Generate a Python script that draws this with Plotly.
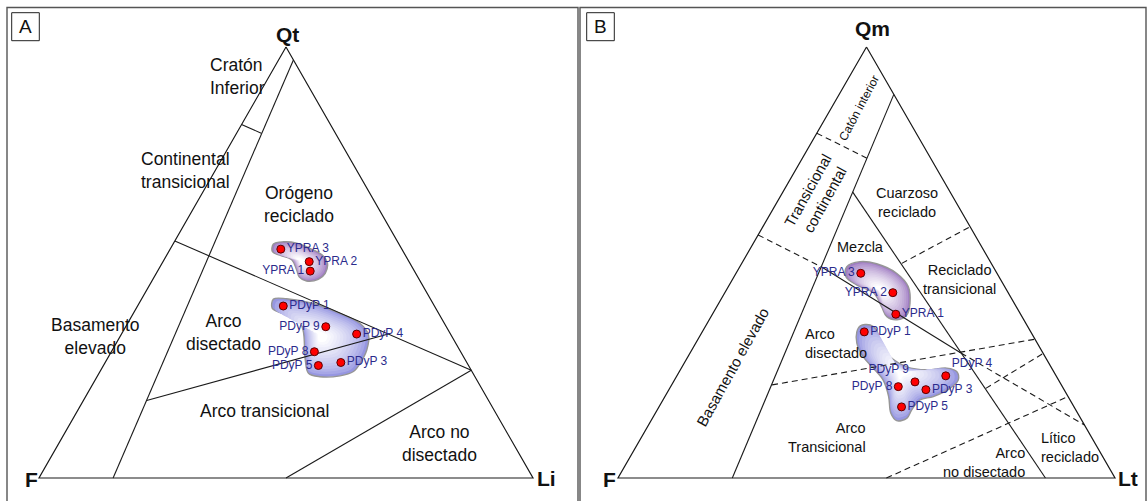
import plotly.graph_objects as go

W, H = 1147, 501
FONT = "Liberation Sans, Arial, sans-serif"

# ---------------------------------------------------------------- data
SAMPLES = ["YPRA 3", "YPRA 2", "YPRA 1", "PDyP 1", "PDyP 9",
           "PDyP 4", "PDyP 8", "PDyP 5", "PDyP 3"]

# Qt-F-L composition (%)
QT_A = [53.1, 50.2, 48.0, 39.9, 35.1, 33.4, 29.3, 26.1, 26.8]
F_A = [24.5, 20.2, 21.1, 30.6, 24.4, 19.0, 29.6, 30.4, 25.5]
LI_A = [22.4, 29.6, 30.9, 29.5, 40.5, 47.6, 41.1, 43.5, 47.7]

# Qm-F-Lt composition (%)
QM_B = [47.5, 43.0, 38.0, 33.9, 22.3, 23.7, 21.2, 16.5, 20.5]
F_B = [27.4, 23.2, 25.1, 33.5, 29.1, 22.2, 33.0, 34.7, 27.8]
LT_B = [25.1, 33.8, 36.9, 32.6, 48.6, 54.1, 45.8, 48.8, 51.7]

# provenance field boundaries, (Q, F, L) end points
BOUNDS_A = [
    [(97, 0, 3), (0, 85, 15)],
    [(82, 18, 0), (80, 15, 5)],
    [(55, 45, 0), (25, 0, 75)],
    [(18, 69.2, 12.8), (33.4, 12.6, 54)],
    [(0, 50, 50), (25, 0, 75)],
]
BOUNDS_B_SOLID = [
    [(89, 0, 11), (0, 77, 23)],
    [(66.4, 19.6, 14), (0, 14, 86)],
    [(49, 34.6, 16.4), (29, 16.5, 54.5)],
]
BOUNDS_B_DASHED = [
    [(80, 20, 0), (74.2, 12.8, 13)],
    [(56.4, 43.6, 0), (49, 34.6, 16.4)],
    [(49.8, 18, 32.2), (58.3, 0, 41.7)],
    [(29, 16.5, 54.5), (12.3, 0, 87.7)],
    [(21.6, 58.2, 20.2), (32.2, 0, 67.8)],
    [(20.8, 15.6, 63.6), (28.9, 0, 71.1)],
    [(0, 46, 54), (18.9, 0, 81.1)],
]

# sample-group envelopes, outline as (Q %, L %)
YPRA_A_Q = [54.3, 54.8, 54.5, 52.9, 51.5, 49.8, 47.5, 46.1, 45.7, 46.6, 48.3, 50.6, 51.7, 52.5]
YPRA_A_L = [20.3, 22.1, 24.9, 29.1, 31.8, 33.5, 34.2, 33.5, 31.3, 29.4, 28.0, 25.9, 22.9, 21.0]
PDYP_A_Q = [41.5, 41.6, 40.5, 38.2, 35.9, 33.2, 29.7, 26.6, 24.7, 23.7, 23.5, 24.3, 27.4,
            34.3, 37.4, 38.4, 39.4]
PDYP_A_L = [26.7, 29.3, 35.3, 41.8, 47.0, 50.1, 51.5, 51.7, 51.3, 49.1, 45.1, 42.4, 40.2,
            36.3, 33.5, 29.6, 27.5]
YPRA_B_Q = [49.0, 50.2, 49.7, 47.5, 44.4, 40.5, 37.8, 36.7, 37.4, 39.7, 42.9, 44.8, 46.7]
YPRA_B_L = [21.5, 23.6, 27.2, 32.3, 36.2, 38.5, 39.2, 37.8, 35.4, 33.2, 30.0, 25.6, 22.5]
PDYP_B_Q = [33.9, 35.3, 35.5, 34.3, 31.3, 28.1, 25.8, 25.1, 25.5, 24.7, 22.7, 20.8, 18.9,
            18.1, 15.8, 13.9, 13.3, 15.0, 18.9, 22.7, 25.5, 28.1, 31.3]
PDYP_B_L = [31.1, 31.1, 33.0, 34.9, 37.1, 40.7, 45.2, 49.6, 53.4, 55.8, 57.1, 56.4, 54.0,
            51.7, 51.2, 51.2, 49.4, 47.4, 45.0, 42.0, 38.6, 35.3, 32.4]

# ---------------------------------------------------------------- layout helpers
PANEL_A = dict(left=39, right=533, base=478, apex=47)
PANEL_B = dict(left=618, right=1115, base=478, apex=47)
XR = (-6, 106)
YR = (-4, 104)


def domains(p):
    w = p["right"] - p["left"]
    h = p["base"] - p["apex"]
    x0 = p["left"] + XR[0] / 100 * w
    x1 = p["left"] + XR[1] / 100 * w
    ybot = p["base"] - YR[0] / 100 * h
    ytop = p["base"] - YR[1] / 100 * h
    return [x0 / W, x1 / W], [1 - ybot / H, 1 - ytop / H]


def to_xy(q, l):
    """ternary (Q, L) -> plane: x along the base, y = height (Q)."""
    return [li + qi / 2 for qi, li in zip(q, l)], list(q)


def mix(c, t):
    return "rgb(%d,%d,%d)" % tuple(round(ci + (255 - ci) * t) for ci in c)


fig = go.Figure()


def add_envelope(q, l, edge, xa, ya):
    x, y = to_xy(q, l)
    cx = sum(x) / len(x)
    cy = sum(y) / len(y)
    n = 14
    for i in range(n):
        s = 1 - 0.92 * i / n
        t = (i / (n - 1)) ** 0.7
        xs = [cx + (v - cx) * s for v in x] + [cx + (x[0] - cx) * s]
        ys = [cy + (v - cy) * s for v in y] + [cy + (y[0] - cy) * s]
        fig.add_trace(go.Scatter(
            x=xs, y=ys, mode="lines", fill="toself", fillcolor=mix(edge, t),
            line=dict(shape="spline", smoothing=1.0,
                      color="rgb(150,150,150)" if i == 0 else mix(edge, t),
                      width=1.4 if i == 0 else 0),
            xaxis=xa, yaxis=ya, hoverinfo="skip", showlegend=False))


def add_segments(segs, xa, ya, dash="solid"):
    for a, b in segs:
        x, y = to_xy([a[0], b[0]], [a[2], b[2]])
        fig.add_trace(go.Scatter(
            x=x, y=y, mode="lines", line=dict(color="#1a1a1a", width=1.1, dash=dash),
            xaxis=xa, yaxis=ya, hoverinfo="skip", showlegend=False))


def add_triangle(xa, ya):
    x, y = to_xy([100, 0, 0, 100], [0, 0, 100, 0])
    fig.add_trace(go.Scatter(
        x=x, y=y, mode="lines", line=dict(color="#1a1a1a", width=1.2),
        xaxis=xa, yaxis=ya, hoverinfo="skip", showlegend=False))


def add_samples(q, l, positions, xa, ya):
    x, y = to_xy(q, l)
    fig.add_trace(go.Scatter(
        x=x, y=y, mode="markers+text", text=SAMPLES, textposition=positions,
        textfont=dict(family=FONT, size=12, color="#2b2b8c"),
        marker=dict(size=8, color="#ff0000", line=dict(color="#5a0000", width=1)),
        cliponaxis=False, xaxis=xa, yaxis=ya, hoverinfo="skip", showlegend=False))


# ---------------------------------------------------------------- panel A (Qt-F-L)
add_envelope(YPRA_A_Q, YPRA_A_L, (160, 125, 195), "x", "y")
add_envelope(PDYP_A_Q, PDYP_A_L, (150, 150, 225), "x", "y")
add_triangle("x", "y")
add_segments(BOUNDS_A, "x", "y")
add_samples(QT_A, LI_A,
            ["middle right", "middle right", "middle left", "middle right", "middle left",
             "middle right", "middle left", "middle left", "middle right"], "x", "y")

# ---------------------------------------------------------------- panel B (Qm-F-Lt)
add_envelope(YPRA_B_Q, YPRA_B_L, (160, 125, 195), "x2", "y2")
add_envelope(PDYP_B_Q, PDYP_B_L, (150, 150, 225), "x2", "y2")
add_triangle("x2", "y2")
add_segments(BOUNDS_B_SOLID, "x2", "y2")
add_segments(BOUNDS_B_DASHED, "x2", "y2", dash="6px,4px")
add_samples(QM_B, LT_B,
            ["middle left", "middle left", "middle right", "middle right", "top left",
             "top right", "middle left", "middle right", "middle right"], "x2", "y2")

# ---------------------------------------------------------------- axes
dxa, dya = domains(PANEL_A)
dxb, dyb = domains(PANEL_B)
hidden = dict(visible=False, showgrid=False, zeroline=False, fixedrange=True)
fig.update_layout(
    xaxis=dict(domain=dxa, range=list(XR), **hidden),
    yaxis=dict(domain=dya, range=list(YR), **hidden),
    xaxis2=dict(domain=dxb, range=list(XR), anchor="y2", **hidden),
    yaxis2=dict(domain=dyb, range=list(YR), anchor="x2", **hidden),
)

# ---------------------------------------------------------------- text
ann = []


def label(px, py, text, size=17.5, xanchor="center", align="center", angle=0, color="#111"):
    ann.append(dict(x=px / W, y=1 - py / H, xref="paper", yref="paper", text=text,
                    showarrow=False, xanchor=xanchor, yanchor="middle", align=align,
                    textangle=angle, font=dict(family=FONT, size=size, color=color)))


# vertices
label(287, 34, "<b>Qt</b>", 21)
label(31, 479, "<b>F</b>", 21)
label(546, 478, "<b>Li</b>", 21)
label(872, 29, "<b>Qm</b>", 21)
label(609, 479, "<b>F</b>", 21)
label(1128, 478, "<b>Lt</b>", 21)

# panel A fields
label(208, 76, "Cratón<br>Inferior", xanchor="left", align="left")
label(185, 170, "Continental<br>transicional")
label(299, 205, "Orógeno<br>reciclado")
label(95, 336, "Basamento<br>elevado")
label(223, 332, "Arco<br>disectado")
label(264, 411, "Arco transicional")
label(439, 443, "Arco no<br>disectado")

# panel B fields
label(859, 108, "Catón interior", 12, angle=-62)
label(816, 195, "Transicional<br>continental", 15, angle=-61)
label(907, 202, "Cuarzoso<br>reciclado", 14.5)
label(860, 247, "Mezcla", 14.5)
label(959, 279, "Reciclado<br>transicional", 14.5)
label(803, 343, "Arco<br>disectado", 14.5, xanchor="left", align="left")
label(868, 437, "Arco<br>Transicional", 14.5, xanchor="right", align="right")
label(1027, 462, "Arco<br>no disectado", 14.5, xanchor="right", align="right")
label(1039, 447, "Lítico<br>reciclado", 14.5, xanchor="left", align="left")
label(732, 367, "Basamento elevado", 15, angle=-61)

# panel letters
label(25.5, 27, "A", 19)
label(600.5, 27, "B", 19)

# ---------------------------------------------------------------- frames
def rect(x0, y0, x1, y1, color, width):
    return dict(type="rect", xref="paper", yref="paper", x0=x0 / W, x1=x1 / W,
                y0=1 - y1 / H, y1=1 - y0 / H, line=dict(color=color, width=width),
                fillcolor="rgba(0,0,0,0)", layer="above")


shapes = [
    rect(7, 7.5, 578, 520, "#555", 1.4),
    rect(580, 7.5, 1146, 520, "#555", 1.4),
    rect(11.7, 12.7, 39.3, 40.7, "#222", 1),
    rect(586.7, 12.7, 614.3, 40.7, "#222", 1),
]

fig.update_layout(
    width=W, height=H, autosize=False,
    margin=dict(l=0, r=0, t=0, b=0, pad=0),
    paper_bgcolor="white", plot_bgcolor="rgba(0,0,0,0)",
    annotations=ann, shapes=shapes, showlegend=False,
)

fig.write_html("out.html", config={"displayModeBar": False})
